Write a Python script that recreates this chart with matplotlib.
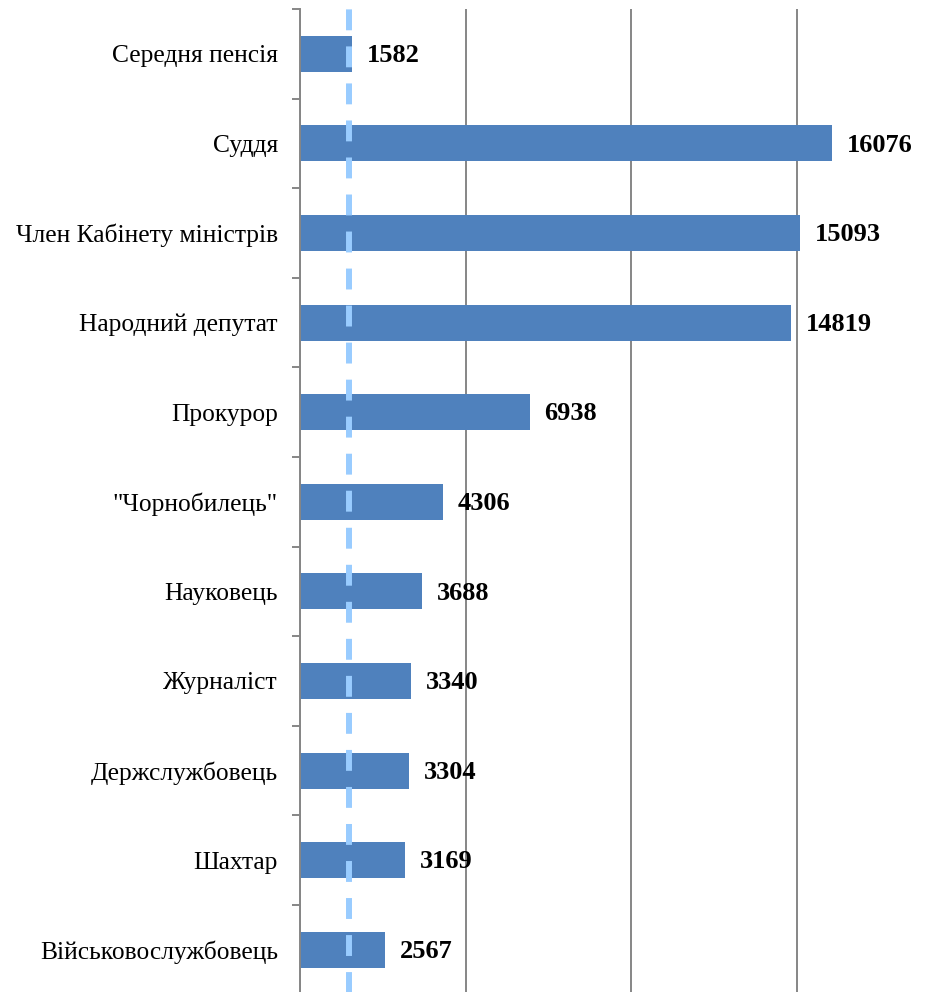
import matplotlib.pyplot as plt
import numpy as np

categories = ["Середня пенсія", "Суддя", "Член Кабінету міністрів", "Народний депутат",
              "Прокурор", "\"Чорнобилець\"", "Науковець", "Журналіст",
              "Держслужбовець", "Шахтар", "Військовослужбовець"]
values = [1582, 16076, 15093, 14819, 6938, 4306, 3688, 3340, 3304, 3169, 2567]
avg_line = 1480
xticks = [0, 5000, 10000, 15000, 20000]

plt.rcParams['font.family'] = ['Liberation Serif', 'DejaVu Serif']

fig = plt.figure(figsize=(9.5, 9.92), dpi=100)
# axes runs past the right and bottom edges, like the cropped original
ax = fig.add_axes([300 / 950, -2.6 / 992, 662 / 950, 985.6 / 992])

y = np.arange(len(categories))
ax.barh(y, values, height=0.4, color='#4F81BD', zorder=2)
ax.set_ylim(len(categories) - 0.5, -0.5)
ax.set_xlim(0, 20000)

for yi, v in zip(y, values):
    ax.text(v + 450, yi + 0.02, str(v), va='center', ha='left',
            fontsize=19, fontweight='bold', color='black', zorder=3)

ax.axvline(avg_line, color='#99CCFF', lw=4.3, linestyle=(0, (3.5, 2.7)), zorder=4)

ax.set_xticks(xticks)
ax.xaxis.grid(True, color='#868686', lw=1.4, zorder=0)
ax.tick_params(axis='x', length=0, labelbottom=False)

ax.set_yticks(y)
ax.set_yticklabels(categories, fontsize=18.4)
ax.tick_params(axis='y', length=0, pad=16)
ax.set_yticks(np.arange(len(categories) + 1) - 0.5, minor=True)
ax.tick_params(axis='y', which='minor', length=6, width=1.4, color='#868686')

for side in ['top', 'right', 'bottom']:
    ax.spines[side].set_visible(False)
ax.spines['left'].set_color('#868686')
ax.spines['left'].set_linewidth(1.4)

fig.savefig('out.png', dpi=100)
